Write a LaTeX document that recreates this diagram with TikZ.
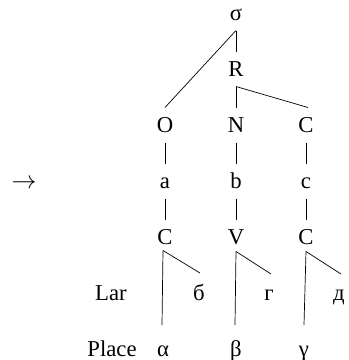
\documentclass[tikz,border=0pt]{standalone}
\usepackage{fontspec}
\setmainfont{Liberation Serif}
\begin{document}
\begin{tikzpicture}[x=1pt,y=-1pt,
  lab/.style={anchor=base,inner sep=0pt,outer xsep=0pt,outer ysep=10pt,
    text height=15pt,text depth=0pt,font=\fontsize{22.7}{27}\selectfont},
  edge/.style={line width=0.7pt}]
\useasboundingbox (0,0) rectangle (349,360);
% syllable tree
\node[lab] (sig) at (236,20.5) {σ};
\node[lab] (rime) at (236,76.5) {R};
\node[lab] (ons) at (165,132.5) {O};
\node[lab] (nuc) at (236,132.5) {N};
\node[lab] (cod) at (306,132.5) {C};
\node[lab] (sa) at (165,188.5) {a};
\node[lab] (sb) at (236,188.5) {b};
\node[lab] (sc) at (306,188.5) {c};
\node[lab,font=\fontsize{25}{30}\selectfont] (arr) at (24,188.5) {$\rightarrow$};
\node[lab] (c1) at (165,244.5) {C};
\node[lab] (v2) at (236,244.5) {V};
\node[lab] (c3) at (306,244.5) {C};
% feature rows
\node[lab] (lar) at (111,300.5) {Lar};
\node[lab] (be) at (199,300.5) {б};
\node[lab] (ge) at (269,300.5) {г};
\node[lab] (de) at (339,300.5) {д};
\node[lab] (place) at (112,356.5) {Place};
\node[lab] (al) at (163,356.5) {α};
\node[lab] (bt) at (236,356.5) {β};
\node[lab] (gm) at (304,356.5) {γ};
% tree edges
\draw[edge] (sig.south) -- (ons.north);
\draw[edge] (sig.south) -- (rime.north);
\draw[edge] (rime.south) -- (nuc.north);
\draw[edge] (rime.south) -- ([xshift=2pt]cod.north);
\draw[edge] (ons.south) -- (sa.north);
\draw[edge] (nuc.south) -- (sb.north);
\draw[edge] (cod.south) -- (sc.north);
\draw[edge] (sa.south) -- (c1.north);
\draw[edge] (sb.south) -- (v2.north);
\draw[edge] (sc.south) -- (c3.north);
% feature edges
\draw[edge] ([xshift=-2pt,yshift=4pt]c1.south) -- ([xshift=-1pt,yshift=6.5pt]al.north);
\draw[edge] ([xshift=-2pt,yshift=4pt]c1.south) -- ([xshift=1pt,yshift=2.5pt]be.north);
\draw[edge] ([yshift=3pt]v2.south) -- ([xshift=-1pt,yshift=6.5pt]bt.north);
\draw[edge] ([yshift=3pt]v2.south) -- ([xshift=2pt,yshift=1.5pt]ge.north);
\draw[edge] ([yshift=3pt]c3.south) -- ([yshift=6.5pt]gm.north);
\draw[edge] ([yshift=3pt]c3.south) -- ([xshift=2pt,yshift=1.5pt]de.north);
\end{tikzpicture}
\end{document}
